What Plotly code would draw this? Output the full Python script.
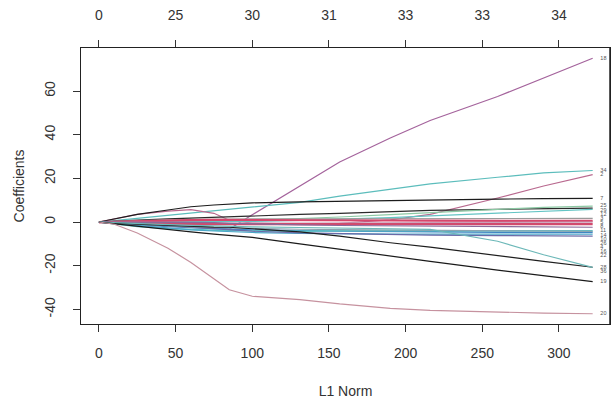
import plotly.graph_objects as go

# L1 norm at the path points
l1_norm = [0, 10, 25, 45, 60, 75, 85, 100, 131, 157, 190, 216, 260, 290, 322]

# top axis: number of nonzero coefficients
top_ticks = [0, 50, 100, 150, 200, 250, 300]
top_labels = ["0", "25", "30", "31", "33", "33", "34"]

y_ticks = [-40, -20, 0, 20, 40, 60]
y_tick_text = ["-40", "-20", "0", "20", "40", "60"]

# coefficient paths
b18 = [0, 0, -0.5, -1, -1.5, -2.5, -3.2, 3.3, 16.5, 27.5, 38.5, 46.5, 57.5, 66, 75]
b34 = [0, 0.7, 1.8, 3.2, 4, 5, 5.7, 6.8, 9, 11.9, 15, 17.5, 20.5, 22.5, 23.6]
b2 = [0, 1.5, 3.5, 5, 5.7, 4, 0.8, -0.5, -1, -0.6, 1, 3.5, 11, 16.5, 21.7]
b7 = [0, 1.5, 3.5, 5.5, 7, 7.8, 8.2, 8.8, 9.2, 9.5, 10, 10.2, 10.5, 10.7, 10.8]
b29 = [0, 0.4, 0.9, 1.4, 1.8, 2.2, 2.5, 3, 3.5, 4, 4.8, 5.3, 5.8, 6.2, 6.4]
b25 = [0, 0, 0, 0, 0, 0.2, 0.4, 0.8, 1.4, 2.3, 3.4, 4.4, 5.8, 6.7, 7.3]
b12 = [0, 0, 0, 0, 0, 0, 0, 0.3, 0.8, 1.3, 2, 2.8, 4, 5, 5.8]
b3 = [0, 0.3, 0.7, 1, 1.2, 1.3, 1.3, 1.4, 1.4, 1.4, 1.4, 1.5, 1.6, 1.6, 1.7]
b5 = [0, 0.2, 0.5, 0.8, 0.9, 1, 1, 1, 0.9, 0.8, 0.7, 0.6, 0.5, 0.5, 0.5]
b8 = [0, 0, 0, -0.2, -0.3, -0.4, -0.5, -0.5, -0.5, -0.4, -0.3, -0.2, -0.2, -0.1, 0]
b11 = [0, -0.2, -0.5, -0.8, -1, -1, -1, -1, -1, -1, -1, -1, -1, -1, -1]
b14 = [0, 0, 0, 0, 0, -0.3, -0.6, -0.9, -1.3, -1.6, -1.8, -2, -2.2, -2.3, -2.4]
b4 = [0, -0.5, -1.2, -2, -2.5, -3, -3.2, -3.6, -4, -4.2, -4.5, -4.6, -4.7, -4.8, -4.8]
b10 = [0, -0.8, -2, -3, -3.5, -3.8, -4, -4, -4.2, -4, -4, -4, -4, -4, -4]
b16 = [0, -0.6, -1.5, -2.8, -3.6, -4.1, -4.4, -4.8, -5.2, -5.4, -5.5, -5.5, -5.6, -5.6, -5.6]
b22 = [0, -0.3, -0.8, -1.8, -2.5, -3.2, -3.6, -4.2, -5, -5.4, -5.8, -6, -6.2, -6.3, -6.5]
b26 = [0, -0.4, -1, -1.8, -2.2, -2.5, -2.7, -3, -3.3, -3.5, -3.7, -3.9, -4.1, -4.2, -4.3]
b28 = [0, -0.5, -1, -1.5, -2, -2.3, -2.4, -3, -4.5, -6.5, -9.5, -11.5, -15.5, -18, -20.7]
b36 = [0, -0.3, -0.7, -1.2, -1.5, -1.8, -2, -2.2, -2.5, -2.7, -3, -3.4, -8.8, -15, -20.8]
b19 = [0, -0.8, -2, -3.5, -4.5, -5.5, -6.2, -7, -10, -12.5, -15.5, -18, -22, -24.5, -27.3]
b20 = [0, -1, -5, -12, -18.5, -26, -31, -34, -35.5, -37.5, -39.5, -40.5, -41.3, -41.7, -42]

paths = [b18, b34, b2, b7, b29, b25, b12, b3, b5, b8, b11, b14, b4, b10, b16, b22,
         b26, b28, b36, b19, b20]
labels = ["18", "34", "2", "7", "29", "25", "12", "3", "5", "8", "11", "14", "4", "10",
          "16", "22", "26", "28", "36", "19", "20"]
colors = ["#a4639c", "#5cbdbc", "#b9698f", "#1c1c1c", "#2a2a2a", "#8cc9a4", "#63c4c4",
          "#9a9a9a", "#d6466c", "#c8a0b8", "#d14a6d", "#8a6a9a", "#3f86c4", "#5cc2c4",
          "#4aa6c8", "#6a6aa8", "#8aa4b0", "#1e1e1e", "#6cb8b8", "#1a1a1a", "#c6929f"]
widths = [1.2, 1.2, 1.2, 1.2, 1.2, 1.2, 1.2, 1.2, 2.2, 1.2, 2.2, 1.2, 1.5, 1.5,
          1.2, 1.2, 1.2, 1.2, 1.2, 1.2, 1.2]

fig = go.Figure()
for p, c, w in zip(paths, colors, widths):
    fig.add_trace(go.Scatter(x=l1_norm, y=p, mode="lines",
                             line=dict(color=c, width=w), showlegend=False,
                             hoverinfo="skip"))

# end labels, nudged apart a little where they crowd
ends = sorted([(p[-1], lab) for p, lab in zip(paths, labels)], reverse=True)
label_y = []
min_gap = 1.9
for v, lab in ends:
    if label_y and label_y[-1] - v < min_gap:
        v = label_y[-1] - min_gap
    label_y.append(v)
fig.add_trace(go.Scatter(x=[l1_norm[-1] + 5] * len(ends), y=label_y,
                         mode="text", text=[lab for _, lab in ends],
                         textposition="middle right",
                         textfont=dict(size=5.5, color="#555", family="Liberation Sans"),
                         showlegend=False, hoverinfo="skip"))

# invisible trace for top axis
fig.add_trace(go.Scatter(x=top_ticks, y=[0] * len(top_ticks), xaxis="x2", mode="markers",
                         marker=dict(opacity=0), showlegend=False, hoverinfo="skip"))

font = dict(family="Liberation Sans, Arial, sans-serif", size=14, color="#333")
xr = [-11.7, 333.3]
fig.update_layout(
    width=612, height=401,
    margin=dict(l=81, r=2, t=48, b=77),
    paper_bgcolor="white", plot_bgcolor="white",
    font=font,
    xaxis=dict(range=xr, tickvals=[0, 50, 100, 150, 200, 250, 300],
               showgrid=False, zeroline=False, showline=True, linecolor="#222",
               linewidth=1, mirror=False, ticks="outside", ticklen=7, tickcolor="#333",
               ticklabelstandoff=9,
               title=dict(text="L1 Norm", standoff=26, font=font)),
    xaxis2=dict(range=xr, overlaying="x", side="top", tickvals=top_ticks,
                ticktext=top_labels, showgrid=False, zeroline=False, showline=True,
                linecolor="#222", linewidth=1, ticks="outside", ticklen=7,
                tickcolor="#333", ticklabelstandoff=14),
    yaxis=dict(range=[-46.7, 79.7], tickvals=y_ticks, ticktext=y_tick_text,
               showgrid=False, zeroline=False, showline=True, linecolor="#222",
               linewidth=1, mirror=True, ticks="outside", ticklen=7, tickcolor="#333",
               tickangle=-90, ticklabelstandoff=12,
               title=dict(text="Coefficients", standoff=14, font=font)),
)
fig.add_shape(type="line", xref="paper", yref="paper", x0=1, x1=1, y0=0, y1=1,
              line=dict(color="#222", width=1.5))
fig.write_html("out.html")
